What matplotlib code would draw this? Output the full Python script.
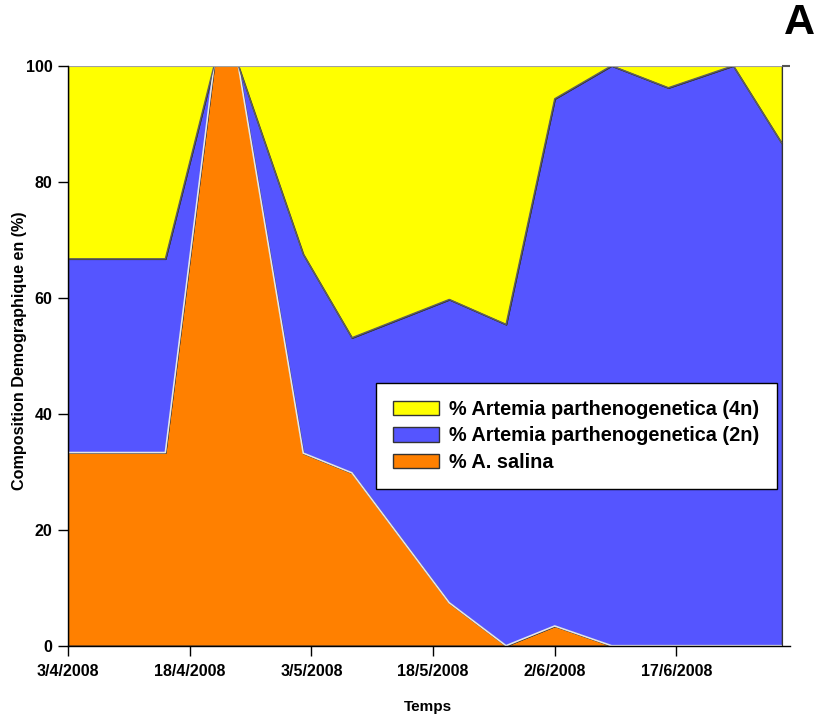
import matplotlib
matplotlib.use("Agg")
import matplotlib.pyplot as plt
import numpy as np

plt.rcParams['font.family'] = ['Liberation Sans', 'DejaVu Sans']
plt.rcParams['font.weight'] = 'bold'

# Days since 3/4/2008
days = [0, 12, 18, 21, 29, 35, 47, 54, 60, 67, 74, 82, 88]
salina = [33.3, 33.3, 100, 100, 33.2, 29.8, 7.4, 0, 3.4, 0, 0, 0, 0]
parth_2n = [33.4, 33.4, 0, 0, 34.3, 23.3, 52.3, 55.4, 90.9, 100, 96.2, 100, 86.6]
parth_4n = [33.3, 33.3, 0, 0, 32.5, 46.9, 40.3, 44.6, 5.7, 0, 3.8, 0, 13.4]

tick_days = [0, 15, 30, 45, 60, 75]
tick_labels = ["3/4/2008", "18/4/2008", "3/5/2008", "18/5/2008", "2/6/2008", "17/6/2008"]
y_ticks = [0, 20, 40, 60, 80, 100]

labels = ["% A. salina", "% Artemia parthenogenetica (2n)", "% Artemia parthenogenetica (4n)"]
colors = ["#FF8000", "#5555FF", "#FFFF00"]

fig = plt.figure(figsize=(8.18, 7.19), dpi=100)
ax = fig.add_axes([68/818, (719-645.7)/719, (790-68)/818, 580/719])

polys = ax.stackplot(days, salina, parth_2n, parth_4n, colors=colors, linewidth=0, labels=labels)

c1 = np.array(salina)
c2 = c1 + np.array(parth_2n)
c3 = c2 + np.array(parth_4n)
ax.plot(days, c1, color="#E6E6E6", lw=1.2, solid_capstyle='butt')
ax.plot(days, c2, color="#606060", lw=1.0, solid_capstyle='butt')
ax.plot(days, c3, color="#A0A0A0", lw=1.5, solid_capstyle='butt')
# small dark tick at top-right (as in reference)
ax.plot([days[-1] / 89.0, 1.0], [1, 1], transform=ax.transAxes, color="#555555", lw=1.5,
        clip_on=False, solid_capstyle='butt')

ax.set_xlim(0, 89)
ax.set_ylim(0, 100)
ax.set_xticks(tick_days)
ax.set_xticklabels(tick_labels)
ax.set_yticks(y_ticks)
for s in ['top', 'right']:
    ax.spines[s].set_visible(False)
for s in ['left', 'bottom']:
    ax.spines[s].set_color('black')
    ax.spines[s].set_linewidth(1.0)
ax.tick_params(axis='both', direction='out', length=7, width=1, labelsize=11.5)
ax.tick_params(axis='y', pad=4.3)
ax.tick_params(axis='x', pad=6)
for lab in ax.get_xticklabels() + ax.get_yticklabels():
    lab.set_fontweight('bold')

ax.set_xlabel("Temps", fontsize=11, fontweight='bold')
ax.set_ylabel("Composition Demographique en (%)", fontsize=11.6, fontweight='bold')
ax.xaxis.set_label_coords(0.4986, -0.093)
ax.yaxis.set_label_coords(-0.057, 0.508)

handles, lbls = ax.get_legend_handles_labels()
for h in handles:
    h.set_edgecolor('#333333')
    h.set_linewidth(1.0)
leg = ax.legend(handles[::-1], lbls[::-1], loc='upper left', bbox_to_anchor=(0.4266, 0.453),
                fontsize=14.3, frameon=True, fancybox=False, edgecolor='black', framealpha=1,
                handlelength=2.3, handleheight=0.75, handletextpad=0.55, borderpad=0.85,
                labelspacing=0.38, borderaxespad=0)
leg.get_frame().set_linewidth(1.0)
for t in leg.get_texts():
    t.set_fontweight('bold')

fig.text(784/818, 1 - 23/719, "A", fontsize=31, fontweight='bold', ha='left', va='center')

fig.savefig("out.png", dpi=100)
